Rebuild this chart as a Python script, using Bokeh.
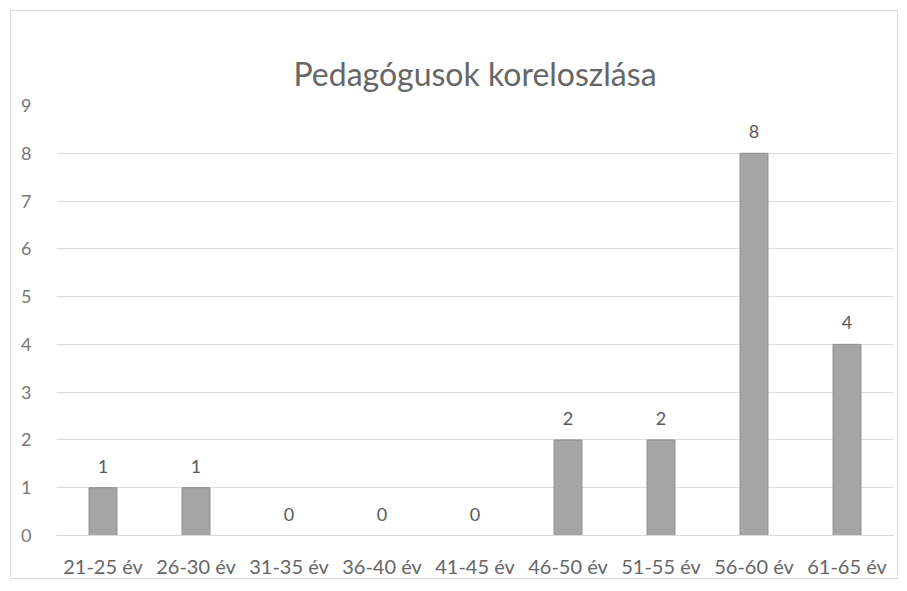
from bokeh.plotting import figure
from bokeh.models import ColumnDataSource, LabelSet, FixedTicker, Title
from bokeh.core.properties import value
from bokeh.embed import file_html
from bokeh.resources import INLINE

categories = ["21-25 év", "26-30 év", "31-35 év", "36-40 év", "41-45 év",
              "46-50 év", "51-55 év", "56-60 év", "61-65 év"]
values = [1, 1, 0, 0, 0, 2, 2, 8, 4]
y_ticks = [0, 1, 2, 3, 4, 5, 6, 7, 8, 9]
title_text = "Pedagógusok koreloszlása"

FONT = "Lato"
src = ColumnDataSource(dict(cat=categories, val=values, lab=[str(v) for v in values]))

p = figure(x_range=categories, y_range=(0, 9), width=888, height=569,
           output_backend="svg", toolbar_location=None,
           min_border_left=45, min_border_right=6, min_border_top=94, min_border_bottom=42)
p.title = Title(text=title_text, align="center", text_font=FONT, text_font_size="32px",
                text_color="#666666", text_font_style="normal", standoff=26)
p.vbar(x="cat", top="val", width=0.3, source=src, fill_color="#a5a5a5",
       line_color="#8c8c8c", line_width=1)

labels = LabelSet(x="cat", y="val", text="lab", source=src, text_align="center",
                  y_offset=15, text_font=value(FONT), text_font_size="18px",
                  text_color="#595959")
p.add_layout(labels)

p.yaxis.ticker = FixedTicker(ticks=y_ticks)
p.yaxis.axis_line_color = None
p.yaxis.major_tick_line_color = None
p.yaxis.minor_tick_line_color = None
p.yaxis.major_label_text_font = FONT
p.yaxis.major_label_text_font_size = "18px"
p.yaxis.major_label_text_color = "#777777"
p.yaxis.major_label_standoff = 19

p.xaxis.axis_line_color = "#d9d9d9"
p.xaxis.major_tick_line_color = None
p.xaxis.minor_tick_line_color = None
p.xaxis.major_label_text_font = FONT
p.xaxis.major_label_text_font_size = "20px"
p.xaxis.major_label_text_color = "#666666"
p.xaxis.major_label_standoff = 12

p.xgrid.grid_line_color = None
p.ygrid.grid_line_color = "#dcdcdc"
p.ygrid.grid_line_width = 1
p.x_range.range_padding = 0
p.outline_line_color = None
p.styles = {"border": "1px solid #dddddd", "margin-left": "10px", "margin-top": "10px"}

open("out.html", "w").write(file_html(p, INLINE))
